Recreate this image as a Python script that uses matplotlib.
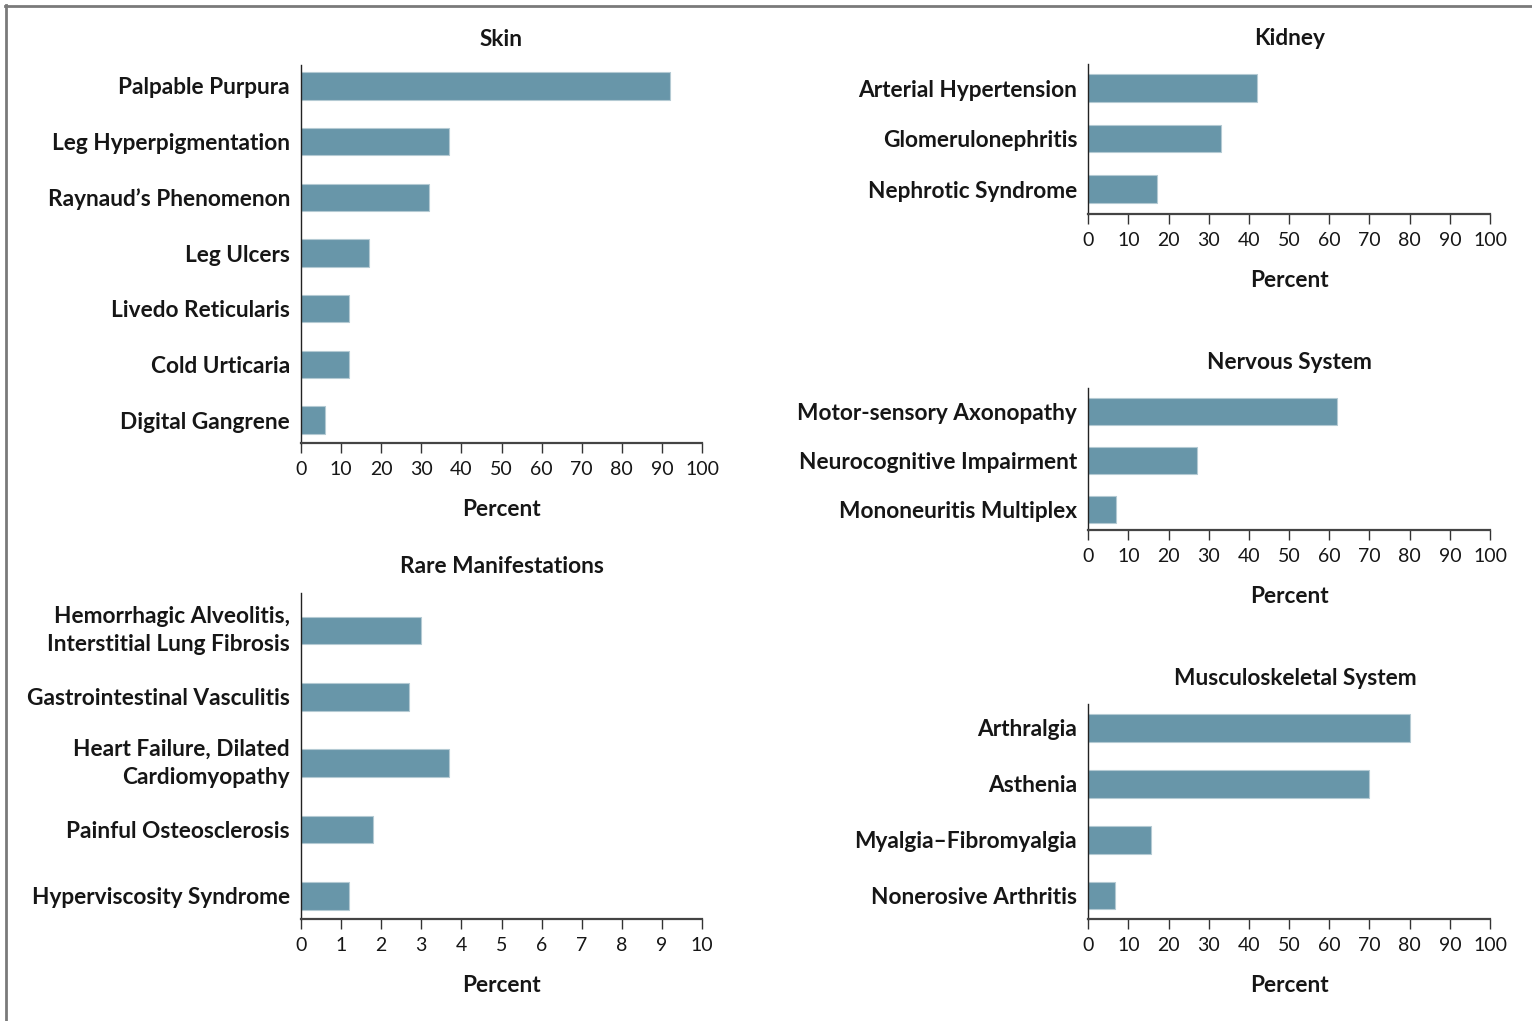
import matplotlib
matplotlib.use("Agg")
import matplotlib.pyplot as plt
from matplotlib.lines import Line2D

plt.rcParams['font.family'] = ['Lato', 'DejaVu Sans']

# ---------------- data ----------------
skin_labels = ["Palpable Purpura", "Leg Hyperpigmentation", "Raynaud\u2019s Phenomenon",
               "Leg Ulcers", "Livedo Reticularis", "Cold Urticaria", "Digital Gangrene"]
skin_values = [92, 37, 32, 17, 12, 12, 6]

kidney_labels = ["Arterial Hypertension", "Glomerulonephritis", "Nephrotic Syndrome"]
kidney_values = [42, 33, 17]

nervous_labels = ["Motor-sensory Axonopathy", "Neurocognitive Impairment", "Mononeuritis Multiplex"]
nervous_values = [62, 27, 7]

musc_labels = ["Arthralgia", "Asthenia", "Myalgia\u2013Fibromyalgia", "Nonerosive Arthritis"]
musc_values = [80, 70, 15.5, 6.7]

rare_labels = ["Hemorrhagic Alveolitis,\nInterstitial Lung Fibrosis", "Gastrointestinal Vasculitis",
               "Heart Failure, Dilated\nCardiomyopathy", "Painful Osteosclerosis", "Hyperviscosity Syndrome"]
rare_values = [3.0, 2.7, 3.7, 1.8, 1.2]

pct_ticks = [0, 10, 20, 30, 40, 50, 60, 70, 80, 90, 100]
rare_ticks = [0, 1, 2, 3, 4, 5, 6, 7, 8, 9, 10]

# ---------------- style ----------------
W, H = 1532, 1021
BAR = "#6896a9"
EDGE = "#b4cad3"
LABEL_FS = 16.3
TICK_FS = 14
TXT = "#161616"

fig = plt.figure(figsize=(W / 100, H / 100), dpi=100)

# frame lines (top and left)
fig.add_artist(Line2D([5 / W, 1.0], [1 - 6.5 / H, 1 - 6.5 / H], color="#7a7a7a", lw=2.0,
                      transform=fig.transFigure))
fig.add_artist(Line2D([6 / W, 6 / W], [1 - 5.5 / H, 0.0], color="#7a7a7a", lw=2.0,
                      transform=fig.transFigure))


def make_axes(left, right, top, bottom):
    return fig.add_axes([left / W, 1 - bottom / H, (right - left) / W, (bottom - top) / H])


def panel(rect, labels, values, ticks, title, spacing_px, top_gap, bottom_gap, title_x=0.5):
    ax = make_axes(*rect)
    n = len(labels)
    pos = list(range(n))
    ax.barh(pos, values, height=27.5 / spacing_px, color=BAR, edgecolor=EDGE, linewidth=0.8)
    ax.set_ylim(n - 1 + bottom_gap, -top_gap)
    ax.set_xlim(ticks[0], ticks[-1])
    ax.set_yticks(pos)
    ax.set_yticklabels(labels, fontsize=LABEL_FS, fontweight="bold", color=TXT,
                       linespacing=1.45)
    for t in ax.get_yticklabels():
        if "\n" in t.get_text():
            t.set_va("center")
    ax.set_xticks(ticks)
    ax.set_xticklabels([str(t) for t in ticks], fontsize=TICK_FS, color=TXT)
    ax.tick_params(axis="y", length=0, pad=8)
    ax.tick_params(axis="x", length=7, width=1.0, color="#333333", pad=6)
    for s in ("top", "right"):
        ax.spines[s].set_visible(False)
    ax.spines["left"].set_color("#222222")
    ax.spines["left"].set_linewidth(1.0)
    ax.spines["bottom"].set_color("#444444")
    ax.spines["bottom"].set_linewidth(1.6)
    ax.set_xlabel("Percent", fontsize=LABEL_FS, fontweight="bold", color=TXT, labelpad=15)
    ax.set_title(title, fontsize=LABEL_FS, fontweight="bold", color=TXT, pad=14, x=title_x)
    return ax


panel((301, 702, 65, 443), skin_labels, skin_values, pct_ticks, "Skin", 55.67, 0.375, 0.41)
panel((1088.3, 1490, 64, 214), kidney_labels, kidney_values, pct_ticks, "Kidney", 50.5, 0.475, 0.49)
panel((1088.3, 1490, 388.3, 530), nervous_labels, nervous_values, pct_ticks, "Nervous System",
      49.1, 0.47, 0.42)
panel((1088.3, 1490, 704.3, 918.7), musc_labels, musc_values, pct_ticks, "Musculoskeletal System",
      56.0, 0.42, 0.41, title_x=0.515)
panel((301, 702, 592.7, 919), rare_labels, rare_values, rare_ticks, "Rare Manifestations",
      66.4, 0.57, 0.35)

fig.savefig("out.png", dpi=100, facecolor="white")
